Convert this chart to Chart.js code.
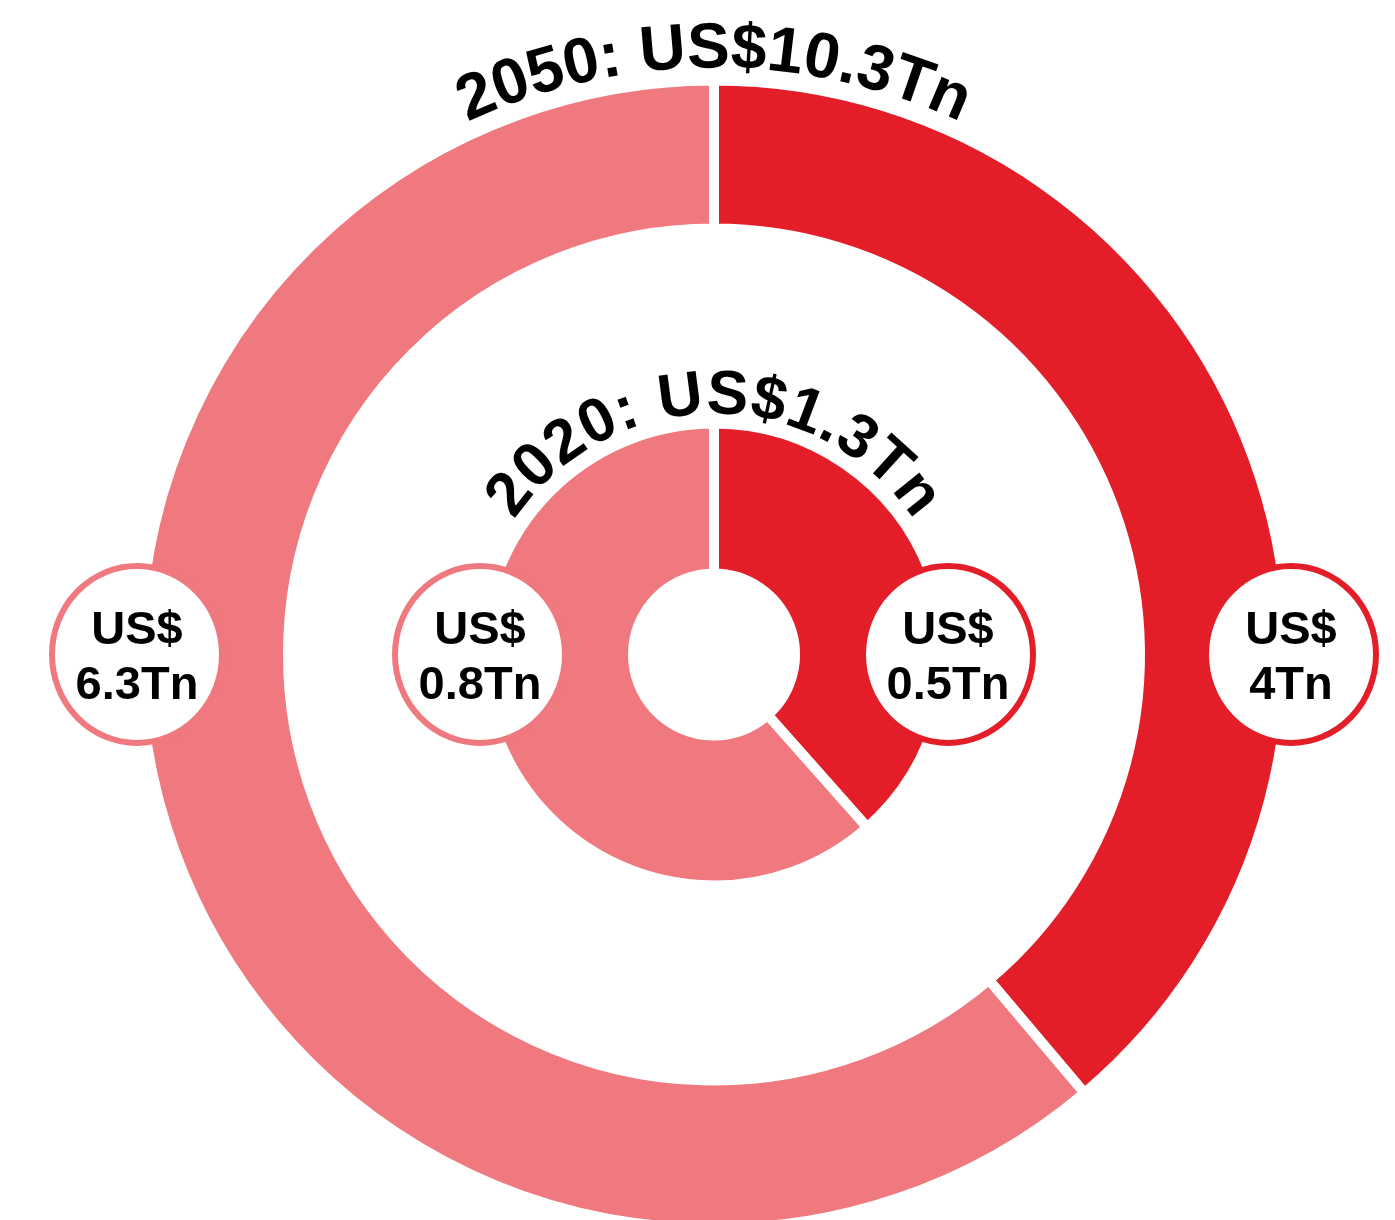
<!DOCTYPE html>
<html>
<head>
<meta charset="utf-8">
<title>2020 vs 2050</title>
<script src="https://cdn.jsdelivr.net/npm/chart.js@4/dist/chart.umd.min.js"></script>
<style>
  html, body { margin: 0; padding: 0; background: #fff; overflow: hidden; }
  canvas { display: block; }
</style>
</head>
<body>
<canvas id="rings" width="1395" height="1260"></canvas>
<script>
// values in US$ trillion
const years = ['2050', '2020'];
const categories = ['Share A', 'Share B'];
const darkValues = [4, 0.5];
const lightValues = [6.3, 0.8];
const totals = [10.3, 1.3];

const dark = '#E41E28';
const light = '#F0787F';

function fmt(v) {
    return 'US$' + v + 'Tn';
}

// writes text along a circle, centred on the top
function drawArcText(ctx, text, cx, cy, r, font, spacing) {
    ctx.save();
    ctx.font = font;
    ctx.fillStyle = '#000';
    ctx.textAlign = 'center';
    ctx.textBaseline = 'alphabetic';
    const chars = [...text];
    const widths = chars.map(ch => ctx.measureText(ch).width);
    const total = widths.reduce((a, b) => a + b, 0) + spacing * (chars.length - 1);
    let angle = -Math.PI / 2 - total / r / 2;
    chars.forEach((ch, i) => {
        const a = angle + widths[i] / 2 / r;
        ctx.save();
        ctx.translate(cx + r * Math.cos(a), cy + r * Math.sin(a));
        ctx.rotate(a + Math.PI / 2);
        ctx.fillText(ch, 0, 0);
        ctx.restore();
        angle += (widths[i] + spacing) / r;
    });
    ctx.restore();
}

function drawBubble(ctx, x, y, color, value) {
    ctx.save();
    ctx.beginPath();
    ctx.ellipse(x, y, 85, 88.5, 0, 0, Math.PI * 2);
    ctx.fillStyle = '#fff';
    ctx.fill();
    ctx.lineWidth = 6;
    ctx.strokeStyle = color;
    ctx.stroke();
    ctx.fillStyle = '#000';
    ctx.font = 'bold 47px "Liberation Sans", Arial, sans-serif';
    ctx.textAlign = 'center';
    ctx.textBaseline = 'alphabetic';
    ctx.fillText('US$', x, y - 11);
    ctx.fillText(value + 'Tn', x, y + 44);
    ctx.restore();
}

const ringLabels = {
    id: 'ringLabels',
    afterDatasetsDraw(chart) {
        const ctx = chart.ctx;
        [0, 2].forEach((dsIndex, k) => {
            const arc = chart.getDatasetMeta(dsIndex).data[0];
            const cx = arc.x, cy = arc.y, r = arc.outerRadius;
            const titleFont = k === 0 ? 'bold 64px "Liberation Sans", Arial, sans-serif'
                                      : 'bold 62px "Liberation Sans", Arial, sans-serif';
            drawArcText(ctx, years[k] + ': ' + fmt(totals[k]), cx, cy, r + (k === 0 ? 13 : 10), titleFont, k === 0 ? 0 : 1);
            const d = r + 3;
            drawBubble(ctx, cx + d, cy, dark, darkValues[k]);
            drawBubble(ctx, cx - d, cy, light, lightValues[k]);
        });
    }
};

new Chart(document.getElementById('rings'), {
    type: 'doughnut',
    data: {
        labels: categories,
        datasets: [
            {
                label: years[0],
                data: [darkValues[0], lightValues[0]],
                backgroundColor: [dark, light],
                borderColor: '#fff',
                borderWidth: 10,
                hoverBorderWidth: 10,
                weight: 148
            },
            {
                label: 'gap',
                data: [1],
                backgroundColor: 'rgba(0,0,0,0)',
                borderWidth: 0,
                hoverBorderWidth: 0,
                weight: 195
            },
            {
                label: years[1],
                data: [darkValues[1], lightValues[1]],
                backgroundColor: [dark, light],
                borderColor: '#fff',
                borderWidth: 10,
                hoverBorderWidth: 10,
                weight: 150
            }
        ]
    },
    options: {
        responsive: false,
        animation: false,
        devicePixelRatio: 1,
        cutout: 81,
        hoverOffset: 0,
        layout: { padding: { left: 135, right: 102, top: 75.5, bottom: 26.5 } },
        plugins: {
            legend: { display: false },
            tooltip: { enabled: false }
        }
    },
    plugins: [ringLabels]
});
</script>
</body>
</html>
